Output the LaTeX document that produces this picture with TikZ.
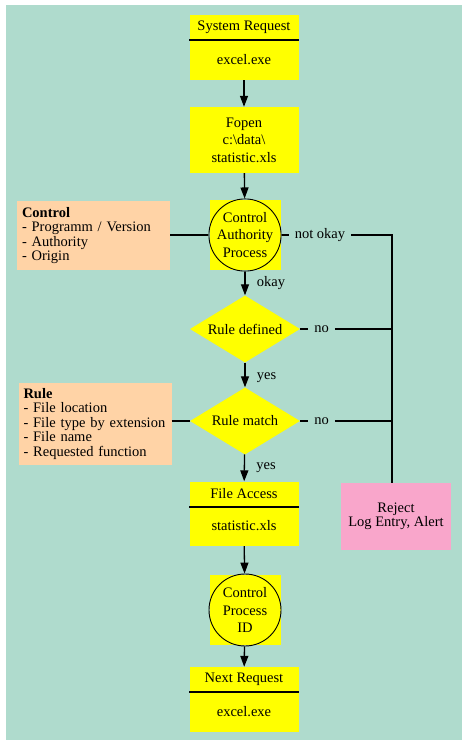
\documentclass[tikz,border=0pt]{standalone}
\usepackage{fontspec}
\setmainfont{Liberation Serif}
\usetikzlibrary{shapes.geometric,arrows.meta}

\definecolor{bgteal}{HTML}{AFDBCD}
\definecolor{flowyellow}{HTML}{FFFF00}
\definecolor{infopeach}{HTML}{FFD3A6}
\definecolor{rejectpink}{HTML}{F9A6CB}

\begin{document}
\begin{tikzpicture}[
    x=1pt, y=-1pt,
    every node/.style={font={\fontsize{14.5}{14.5}\selectfont}},
    head/.style={fill=flowyellow, minimum width=109pt, minimum height=25pt, inner sep=0pt},
    body/.style={fill=flowyellow, minimum width=109pt, minimum height=40pt, inner sep=0pt},
    yellowbox/.style={fill=flowyellow, minimum width=109pt, minimum height=66pt, align=center, font={\fontsize{14.5}{17.5}\selectfont}},
    procsquare/.style={fill=flowyellow, minimum width=71pt, minimum height=70pt},
    proccircle/.style={circle, draw, line width=0.9pt, minimum size=72pt, inner sep=0pt, align=center, font={\fontsize{14.5}{17.5}\selectfont}},
    decision/.style={diamond, fill=flowyellow, aspect=1.64, minimum width=110pt, minimum height=67pt, inner sep=0pt},
    info/.style={fill=infopeach, align=left, text width=143pt, inner sep=5pt},
    rejectbox/.style={fill=rejectpink, minimum width=110pt, minimum height=67pt, align=center},
    flowlabel/.style={inner xsep=6pt, inner ysep=2pt},
    arrow/.style={-{Triangle[length=11pt,width=8pt]}, line width=1.3pt},
    link/.style={line width=1.2pt},
    sep/.style={line width=1.6pt}
  ]

  \useasboundingbox (0,0) rectangle (462,740);
  \fill[bgteal] (6,5) rectangle (462,740);

  % Main column
  \node[head] (req_head) at (244,27.5) {System Request};
  \node[body] (req_body) at (244,60) {excel.exe};
  \draw[sep] (req_head.south west) -- (req_head.south east);

  \node[yellowbox] (fopen) at (244,140) {Fopen\\c:\textbackslash data\textbackslash\\statistic.xls};

  \node[procsquare] (auth_sq) at (245,235) {};
  \node[proccircle] (auth) at (245,235) {Control\\Authority\\Process};

  \node[decision] (defined) at (245,329) {Rule defined};
  \node[decision] (match) at (245,421) {Rule match};

  \node[head] (access_head) at (244,494) {File Access};
  \node[body] (access_body) at (244,526) {statistic.xls};
  \draw[sep] (access_head.south west) -- (access_head.south east);

  \node[procsquare] (id_sq) at (245,610) {};
  \node[proccircle] (id) at (245,610) {Control\\Process\\ID};

  \node[head] (next_head) at (244,679.5) {Next Request};
  \node[body] (next_body) at (244,711.5) {excel.exe};
  \draw[sep] (next_head.south west) -- (next_head.south east);

  % Side boxes
  \node[info, minimum height=69pt] (ctrl_info) at (93.5,235.5) {\textbf{Control}\\- Programm / Version\\- Authority\\- Origin};
  \node[info, minimum height=82pt] (rule_info) at (95,424) {\textbf{Rule}\\- File location\\- File type by extension\\- File name\\- Requested function};
  \node[rejectbox] (reject) at (396,516.5) {Reject\\Log Entry, Alert};

  % Reject branch
  \node[flowlabel] (not_okay) at (320,235) {not okay};
  \node[flowlabel] (no_defined) at (321.5,329) {no};
  \node[flowlabel] (no_match) at (321.5,421) {no};
  \coordinate (reject_tap) at (392,235);

  \draw[link] (auth.east) -- (not_okay.west);
  \draw[link] (not_okay.east) -- (reject_tap) -- (reject_tap |- reject.north);
  \draw[link] (defined.east) -- (no_defined.west);
  \draw[link] (no_defined.east) -- (no_defined.east -| reject_tap);
  \draw[link] (match.east) -- (no_match.west);
  \draw[link] (no_match.east) -- (no_match.east -| reject_tap);

  % Info links
  \draw[link] (ctrl_info.east |- auth.west) -- (auth.west);
  \draw[link] (rule_info.east |- match.west) -- (match.west);

  % Flow
  \draw[arrow] (req_body) -- (fopen);
  \draw[arrow] (fopen) -- (auth);
  \draw[arrow] (auth) -- node[right, xshift=8pt] (okay_lbl) {okay} (defined);
  \draw[arrow] (defined) -- node[right, xshift=8pt, pos=0.6] (yes_defined) {yes} (match);
  \draw[arrow] (match) -- node[right, xshift=8pt] (yes_match) {yes} (access_head);
  \draw[arrow] (access_body) -- (id);
  \draw[arrow] (id) -- (next_head);

\end{tikzpicture}
\end{document}
